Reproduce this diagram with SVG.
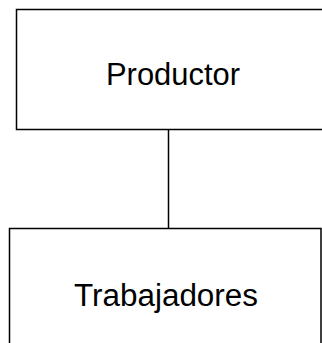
<svg xmlns="http://www.w3.org/2000/svg" width="322" height="343" viewBox="0 0 322 343">
<style>
.box{fill:#fff;stroke:#000;stroke-width:1.5}
.lbl{font-family:"Liberation Sans",Arial,sans-serif;font-size:31px;fill:#000;text-anchor:middle}
.conn{stroke:#000;stroke-width:1.5;fill:none}
</style>
<g id="connectors">
<line class="conn" x1="168.5" y1="129.5" x2="168.5" y2="228.5"/>
</g>
<g id="productor">
<rect class="box" x="16.5" y="9.5" width="320" height="120"/>
<text class="lbl" x="173" y="85" textLength="134" lengthAdjust="spacingAndGlyphs">Productor</text>
</g>
<g id="trabajadores">
<rect class="box" x="9.5" y="228.5" width="311.5" height="130"/>
<text class="lbl" x="166" y="306" textLength="184" lengthAdjust="spacingAndGlyphs">Trabajadores</text>
</g>
</svg>
